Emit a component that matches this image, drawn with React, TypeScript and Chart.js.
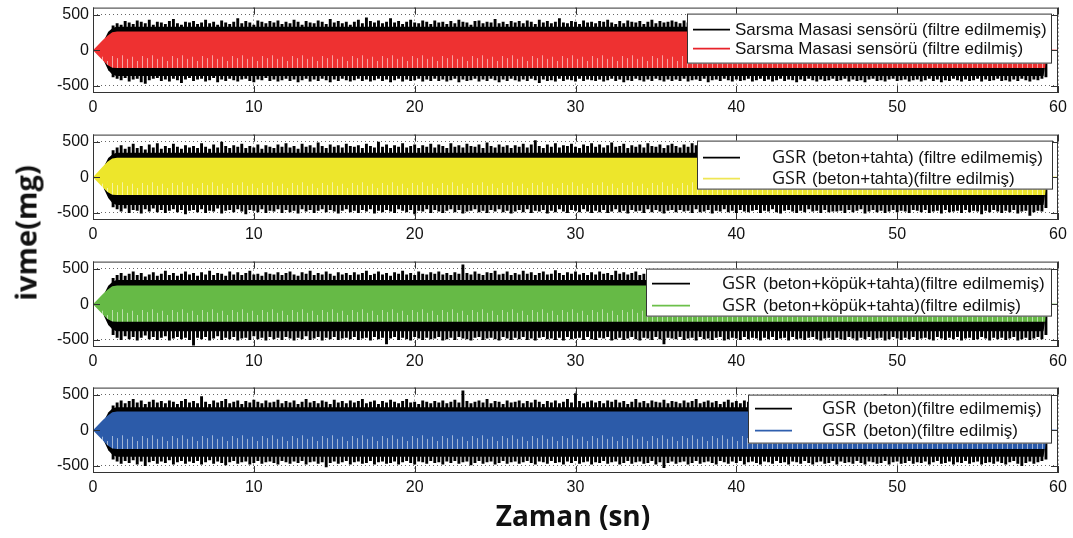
import React, { useEffect, useRef } from "react";
import { Chart, registerables } from "chart.js";

Chart.register(...registerables);

// ---------- axes ----------
const X_TICKS = [0, 10, 20, 30, 40, 50, 60];
const Y_TICKS = [-500, 0, 500];
const Y_MIN = -600;
const Y_MAX = 600;
const X_MIN = 0;
const X_MAX = 60;

// ---------- sampling of the raw (unfiltered) peaks: one peak pair every 0.25 s ----------
const SPIKE_T0 = 1.25;
const SPIKE_DT = 0.25;
const CORE_T = [0.45, 0.7, 0.95, 1.2, 1.45, 59.1, 59.35];
const FILT_T = [0, 0.3, 0.6, 0.9, 1.2, 1.5, 59.2, 59.3, 60];

// ---------- panel 1 : Sarsma Masasi ----------
const P1_RAW_UP = [
  350, 380, 360, 410, 390, 370, 420, 400, 380, 430, 360, 400, 390, 370, 410, 440, 380, 360, 400, 390,
  410, 370, 390, 430, 380, 400, 360, 420, 390, 370, 400, 450, 380, 410, 390, 360, 420, 400, 380, 410,
  390, 420, 370, 400, 380, 430, 400, 360, 410, 390, 380, 420, 400, 370, 440, 390, 410, 380, 400, 360,
  400, 430, 380, 460, 410, 390, 420, 380, 400, 450, 390, 410, 370, 400, 430, 390, 380, 420, 400, 370,
  420, 390, 400, 370, 410, 380, 430, 400, 390, 360, 410, 420, 380, 400, 390, 440, 380, 400, 370, 410,
  390, 410, 380, 420, 400, 370, 430, 390, 410, 380, 400, 450, 390, 380, 410, 400, 370, 420, 390, 400,
  380, 410, 400, 430, 390, 370, 410, 380, 420, 400, 390, 410, 370, 400, 430, 380, 410, 390, 400, 420,
  400, 380, 420, 390, 410, 370, 400, 430, 380, 410, 390, 400, 420, 380, 400, 370, 410, 390, 430, 400,
  380, 410, 400, 420, 390, 380, 440, 400, 390, 410, 370, 400, 420, 390, 380, 410, 400, 430, 390, 380,
  410, 400, 380, 420, 390, 410, 370, 400, 430, 390, 400, 380, 410, 420, 390, 400, 380, 410, 440, 390,
  400, 380, 410, 390, 420, 400, 370, 410, 390, 430, 380, 400, 410, 390, 420, 380, 400, 410, 390, 400,
  420, 390, 400, 380, 410, 400, 430, 390, 400, 380, 410, 380, 350,
];
const P1_RAW_LO = [
  -380, -400, -420, -390, -440, -410, -400, -450, -470, -420, -400, -390, -430, -410, -440, -400, -420, -460, -410, -390,
  -430, -410, -400, -440, -420, -390, -450, -410, -430, -400, -420, -440, -410, -400, -430, -450, -410, -420, -390, -430,
  -410, -440, -420, -400, -430, -410, -450, -420, -400, -440, -410, -430, -400, -420, -450, -410, -430, -400, -420, -440,
  -420, -400, -430, -410, -440, -420, -400, -430, -410, -450, -420, -400, -440, -410, -430, -420, -400, -440, -410, -430,
  -400, -430, -410, -440, -420, -400, -450, -410, -430, -420, -400, -440, -410, -430, -400, -420, -450, -410, -430, -400,
  -420, -440, -410, -430, -400, -420, -460, -410, -430, -420, -440, -400, -430, -410, -420, -440, -400, -430, -410, -420,
  -430, -410, -440, -420, -400, -430, -410, -450, -420, -430, -400, -420, -440, -410, -430, -400, -420, -440, -410, -430,
  -410, -430, -400, -440, -420, -410, -430, -400, -450, -420, -410, -430, -400, -420, -440, -410, -430, -420, -400, -440,
  -420, -400, -430, -410, -440, -420, -400, -430, -410, -420, -450, -410, -430, -400, -420, -440, -410, -430, -420, -400,
  -430, -420, -400, -440, -410, -430, -420, -450, -410, -400, -430, -420, -440, -410, -400, -430, -420, -410, -440, -420,
  -410, -440, -420, -400, -430, -410, -450, -420, -430, -400, -420, -440, -410, -430, -420, -400, -440, -410, -430, -420,
  -400, -430, -420, -440, -410, -430, -400, -420, -440, -410, -420, -400, -380,
];
const P1_CORE_UP = [0, 150, 260, 310, 330, 330, 0];
const P1_CORE_LO = [0, -160, -280, -340, -360, -360, 0];
const P1_FILT_UP = [0, 70, 140, 205, 255, 265, 265, 12, 8];
const P1_FILT_LO = [0, -70, -140, -205, -245, -250, -250, -12, -8];

// ---------- panel 2 : GSR (beton+tahta) ----------
const P2_RAW_UP = [
  380, 420, 450, 400, 430, 470, 410, 440, 390, 460, 420, 480, 400, 440, 410, 470, 430, 400, 450, 420,
  440, 410, 480, 430, 400, 460, 420, 500, 440, 410, 450, 430, 470, 410, 440, 420, 460, 400, 450, 430,
  410, 460, 430, 480, 420, 440, 400, 470, 430, 450, 420, 490, 440, 410, 460, 430, 450, 420, 470, 440,
  430, 450, 410, 470, 440, 420, 500, 430, 460, 410, 450, 430, 480, 420, 440, 460, 410, 450, 430, 470,
  420, 460, 440, 410, 480, 430, 450, 420, 470, 440, 430, 460, 410, 490, 440, 420, 460, 430, 450, 410,
  450, 430, 470, 420, 460, 520, 440, 410, 460, 430, 480, 420, 450, 440, 470, 430, 410, 460, 440, 480,
  430, 460, 420, 450, 490, 430, 440, 470, 410, 450, 430, 460, 420, 480, 440, 430, 460, 410, 450, 470,
  440, 420, 460, 430, 480, 450, 410, 470, 440, 430, 500, 440, 420, 460, 430, 450, 410, 470, 440, 460,
  420, 450, 430, 470, 410, 460, 440, 490, 430, 450, 420, 460, 440, 410, 480, 430, 450, 420, 460, 440,
  460, 430, 450, 410, 470, 440, 500, 430, 460, 420, 450, 440, 480, 430, 410, 460, 440, 470, 420, 450,
  430, 470, 440, 420, 460, 430, 480, 450, 410, 460, 440, 430, 470, 420, 450, 490, 430, 460, 440, 420,
  450, 430, 470, 440, 420, 460, 430, 450, 480, 420, 440, 410, 370,
];
const P2_RAW_LO = [
  -420, -450, -480, -440, -500, -460, -470, -510, -450, -480, -440, -490, -460, -500, -470, -450, -490, -460, -520, -470,
  -460, -490, -450, -500, -470, -480, -440, -510, -470, -460, -490, -450, -480, -520, -460, -470, -490, -450, -500, -470,
  -480, -450, -500, -460, -490, -470, -510, -450, -480, -460, -500, -470, -450, -490, -460, -480, -510, -470, -450, -490,
  -470, -500, -460, -480, -450, -510, -470, -490, -460, -480, -500, -450, -470, -490, -460, -520, -470, -480, -450, -500,
  -460, -480, -500, -470, -450, -490, -460, -510, -480, -470, -450, -490, -470, -500, -460, -480, -450, -490, -470, -510,
  -480, -460, -490, -450, -500, -470, -480, -460, -510, -470, -490, -450, -480, -500, -460, -470, -490, -450, -480, -500,
  -470, -490, -460, -500, -480, -450, -490, -470, -510, -460, -480, -470, -500, -450, -490, -460, -480, -510, -470, -460,
  -490, -460, -480, -470, -500, -450, -490, -480, -460, -510, -470, -480, -450, -490, -470, -500, -460, -480, -490, -470,
  -460, -500, -470, -480, -450, -490, -510, -470, -460, -480, -500, -470, -490, -450, -480, -470, -500, -460, -490, -480,
  -480, -470, -500, -460, -490, -470, -450, -510, -480, -460, -490, -470, -500, -480, -460, -490, -470, -480, -500, -460,
  -470, -490, -460, -500, -480, -470, -510, -460, -490, -480, -470, -500, -460, -490, -470, -480, -520, -470, -490, -460,
  -480, -500, -470, -490, -460, -510, -480, -470, -540, -490, -470, -480, -430,
];
const P2_CORE_UP = [0, 160, 270, 320, 345, 345, 0];
const P2_CORE_LO = [0, -170, -290, -360, -390, -390, 0];
const P2_FILT_UP = [0, 75, 150, 220, 265, 275, 275, 12, 8];
const P2_FILT_LO = [0, -70, -140, -205, -245, -250, -250, -12, -8];

// ---------- panel 3 : GSR (beton+köpük+tahta) ----------
const P3_RAW_UP = [
  370, 410, 440, 400, 430, 460, 410, 440, 390, 420, 450, 400, 430, 470, 410, 440, 400, 430, 460, 420,
  440, 400, 450, 420, 470, 410, 440, 430, 400, 460, 420, 450, 410, 440, 470, 420, 430, 400, 450, 430,
  420, 450, 410, 440, 460, 420, 400, 450, 430, 470, 410, 440, 420, 460, 430, 400, 450, 420, 440, 410,
  450, 420, 440, 470, 410, 430, 460, 420, 440, 400, 450, 430, 470, 420, 440, 410, 460, 430, 420, 450,
  430, 460, 420, 440, 410, 450, 430, 560, 440, 420, 460, 430, 410, 450, 440, 470, 420, 430, 460, 410,
  440, 420, 470, 430, 450, 410, 440, 460, 420, 430, 480, 440, 410, 450, 430, 460, 420, 440, 410, 450,
  420, 460, 430, 440, 410, 470, 430, 450, 420, 440, 460, 410, 430, 450, 420, 470, 440, 430, 410, 460,
  430, 450, 410, 440, 470, 420, 440, 460, 430, 410, 450, 440, 420, 460, 430, 480, 420, 440, 450, 410,
  450, 420, 440, 460, 430, 410, 470, 440, 420, 450, 430, 460, 410, 440, 420, 450, 470, 430, 440, 420,
  440, 460, 420, 450, 430, 410, 460, 440, 470, 420, 450, 430, 440, 410, 460, 430, 420, 450, 440, 470,
  420, 450, 430, 460, 410, 440, 430, 470, 420, 450, 440, 410, 460, 430, 450, 420, 440, 460, 430, 410,
  450, 430, 460, 420, 440, 410, 450, 430, 460, 420, 440, 410, 370,
];
const P3_RAW_LO = [
  -430, -470, -500, -450, -490, -460, -510, -470, -440, -490, -460, -500, -470, -450, -510, -480, -460, -490, -470, -500,
  -580, -470, -490, -460, -510, -480, -450, -500, -470, -490, -460, -510, -480, -470, -500, -450, -490, -470, -510, -460,
  -490, -470, -500, -460, -480, -510, -470, -490, -450, -500, -480, -460, -510, -470, -490, -460, -500, -480, -470, -490,
  -460, -500, -480, -470, -510, -460, -490, -470, -560, -480, -460, -500, -470, -490, -510, -460, -480, -500, -470, -490,
  -480, -460, -510, -490, -470, -500, -460, -480, -490, -510, -470, -460, -500, -480, -470, -490, -510, -460, -480, -500,
  -470, -490, -460, -500, -480, -510, -470, -460, -490, -480, -500, -470, -510, -460, -490, -480, -470, -500, -460, -490,
  -500, -470, -480, -460, -510, -490, -470, -500, -480, -460, -490, -510, -470, -480, -500, -460, -490, -560, -470, -480,
  -490, -460, -500, -480, -470, -510, -460, -490, -480, -500, -470, -460, -510, -490, -470, -480, -500, -460, -490, -470,
  -480, -510, -470, -490, -460, -500, -480, -470, -510, -460, -490, -480, -500, -470, -460, -490, -510, -480, -470, -500,
  -470, -490, -500, -460, -480, -510, -470, -490, -460, -500, -480, -470, -510, -490, -460, -480, -500, -470, -490, -460,
  -500, -480, -470, -490, -510, -460, -480, -500, -470, -490, -460, -510, -480, -470, -500, -490, -460, -480, -510, -470,
  -490, -470, -500, -480, -460, -510, -490, -470, -500, -480, -460, -490, -430,
];
const P3_CORE_UP = [0, 150, 260, 315, 340, 340, 0];
const P3_CORE_LO = [0, -170, -290, -350, -380, -380, 0];
const P3_FILT_UP = [0, 70, 140, 205, 255, 263, 263, 12, 8];
const P3_FILT_LO = [0, -70, -140, -205, -240, -245, -245, -12, -8];

// ---------- panel 4 : GSR (beton) ----------
const P4_RAW_UP = [
  350, 390, 420, 380, 410, 440, 390, 420, 370, 400, 430, 390, 410, 380, 420, 400, 370, 410, 440, 390,
  410, 380, 480, 400, 370, 420, 390, 410, 440, 380, 400, 420, 370, 410, 390, 430, 400, 380, 420, 390,
  400, 430, 380, 410, 390, 420, 370, 400, 440, 390, 410, 380, 420, 400, 370, 430, 390, 410, 380, 420,
  390, 410, 440, 380, 400, 420, 370, 410, 390, 430, 400, 380, 410, 440, 390, 400, 370, 420, 400, 380,
  410, 390, 420, 380, 400, 430, 390, 560, 410, 380, 400, 420, 390, 440, 380, 410, 400, 370, 420, 390,
  400, 420, 380, 410, 390, 430, 400, 370, 410, 390, 420, 380, 400, 440, 390, 520, 410, 380, 400, 420,
  390, 410, 380, 420, 400, 430, 390, 410, 370, 400, 440, 390, 410, 380, 420, 400, 390, 430, 380, 410,
  400, 380, 420, 390, 410, 440, 380, 400, 420, 390, 410, 370, 400, 430, 390, 410, 380, 420, 400, 390,
  420, 390, 400, 380, 430, 410, 390, 400, 420, 380, 410, 440, 390, 400, 370, 420, 400, 390, 410, 430,
  390, 410, 380, 420, 400, 390, 430, 380, 410, 400, 420, 390, 510, 400, 380, 410, 390, 430, 400, 380,
  410, 400, 390, 420, 380, 410, 430, 390, 400, 420, 380, 410, 400, 390, 430, 380, 410, 400, 420, 390,
  400, 420, 390, 410, 380, 430, 400, 390, 410, 380, 400, 390, 350,
];
const P4_RAW_LO = [
  -410, -440, -470, -430, -460, -420, -480, -440, -500, -450, -430, -470, -440, -460, -420, -480, -450, -430, -470, -440,
  -460, -430, -480, -450, -420, -470, -440, -460, -490, -450, -430, -470, -450, -440, -480, -460, -430, -470, -450, -440,
  -460, -480, -430, -450, -470, -440, -460, -430, -480, -450, -440, -470, -450, -520, -460, -440, -470, -450, -430, -480,
  -450, -440, -470, -460, -430, -480, -450, -440, -470, -460, -440, -480, -450, -430, -460, -480, -440, -450, -470, -430,
  -460, -450, -480, -440, -460, -430, -470, -450, -440, -490, -460, -430, -470, -450, -440, -480, -460, -430, -470, -450,
  -440, -470, -450, -430, -460, -480, -440, -450, -470, -430, -460, -450, -480, -440, -460, -430, -470, -450, -440, -480,
  -450, -460, -430, -470, -450, -440, -480, -460, -430, -470, -450, -440, -470, -460, -430, -480, -450, -530, -460, -440,
  -470, -450, -440, -480, -460, -430, -470, -450, -440, -460, -480, -430, -450, -470, -440, -460, -430, -480, -450, -440,
  -460, -480, -440, -450, -470, -430, -460, -450, -480, -440, -450, -470, -430, -460, -480, -450, -440, -470, -460, -430,
  -480, -440, -460, -450, -470, -430, -460, -480, -440, -450, -470, -460, -430, -480, -450, -440, -470, -460, -430, -470,
  -450, -460, -440, -480, -450, -430, -470, -460, -440, -480, -450, -460, -430, -470, -450, -440, -480, -460, -450, -470,
  -440, -460, -480, -450, -430, -470, -500, -460, -440, -470, -450, -430, -410,
];
const P4_CORE_UP = [0, 140, 250, 305, 325, 325, 0];
const P4_CORE_LO = [0, -160, -280, -345, -370, -370, 0];
const P4_FILT_UP = [0, 70, 140, 205, 255, 263, 263, 12, 8];
const P4_FILT_LO = [0, -70, -140, -210, -255, -262, -262, -12, -8];

// ---------- legend texts ----------
const P1_LABELS = ["Sarsma Masasi sensörü (filtre edilmemiş)", "Sarsma Masasi sensörü (filtre edilmiş)"];
const P2_LABELS = ["(beton+tahta) (filtre edilmemiş)", "(beton+tahta)(filtre edilmiş)"];
const P3_LABELS = ["(beton+köpük+tahta)(filtre edilmemiş)", "(beton+köpük+tahta)(filtre edilmiş)"];
const P4_LABELS = ["(beton)(filtre edilmemiş)", "(beton)(filtre edilmiş)"];
const GSR = "GSR";
const X_TITLE = "Zaman (sn)";
const Y_TITLE = "ivme(mg)";

// ---------- styles ----------
const RED = "#EE3131";
const YELLOW = "#EDE62B";
const GREEN = "#66BA46";
const BLUE = "#2C5BA9";
const STREAK_LEVELS = [-70, -120, -90, -150, -80, -110];

const PAD_TOP = 8;
const PLOT_H = 91;
const X_AXIS_H = 26;
const CANVAS_H = PAD_TOP + PLOT_H + X_AXIS_H;
const W = 1073;
const TICK_FONT = { family: "'Liberation Sans', Arial, sans-serif", size: 16 };

type Row = { y: number; color: string; prefix: string; text: string };
type LegendCfg = { x1: number; x2: number; y1: number; y2: number; lx1: number; lx2: number; px: number; tx: number; rows: Row[] };

const PANELS = [
  {
    top: 2, color: RED,
    rawUp: P1_RAW_UP, rawLo: P1_RAW_LO, coreUp: P1_CORE_UP, coreLo: P1_CORE_LO, filtUp: P1_FILT_UP, filtLo: P1_FILT_LO,
    legend: {
      x1: 687, x2: 1052, y1: 6, y2: 56, lx1: 693, lx2: 730, px: 0, tx: 735,
      rows: [
        { y: 22, color: "#000", prefix: "", text: P1_LABELS[0] },
        { y: 41, color: "#E8232A", prefix: "", text: P1_LABELS[1] },
      ],
    } as LegendCfg,
  },
  {
    top: 129, color: YELLOW,
    rawUp: P2_RAW_UP, rawLo: P2_RAW_LO, coreUp: P2_CORE_UP, coreLo: P2_CORE_LO, filtUp: P2_FILT_UP, filtLo: P2_FILT_LO,
    legend: {
      x1: 697, x2: 1053, y1: 6, y2: 55, lx1: 703, lx2: 740, px: 772, tx: 812,
      rows: [
        { y: 23, color: "#000", prefix: GSR, text: P2_LABELS[0] },
        { y: 44, color: "#EFE655", prefix: GSR, text: P2_LABELS[1] },
      ],
    } as LegendCfg,
  },
  {
    top: 256, color: GREEN,
    rawUp: P3_RAW_UP, rawLo: P3_RAW_LO, coreUp: P3_CORE_UP, coreLo: P3_CORE_LO, filtUp: P3_FILT_UP, filtLo: P3_FILT_LO,
    legend: {
      x1: 646, x2: 1052, y1: 7, y2: 55, lx1: 652, lx2: 690, px: 722, tx: 763,
      rows: [
        { y: 22, color: "#000", prefix: GSR, text: P3_LABELS[0] },
        { y: 44, color: "#6CC04A", prefix: GSR, text: P3_LABELS[1] },
      ],
    } as LegendCfg,
  },
  {
    top: 382, color: BLUE,
    rawUp: P4_RAW_UP, rawLo: P4_RAW_LO, coreUp: P4_CORE_UP, coreLo: P4_CORE_LO, filtUp: P4_FILT_UP, filtLo: P4_FILT_LO,
    legend: {
      x1: 748, x2: 1052, y1: 7, y2: 56, lx1: 755, lx2: 792, px: 822, tx: 863,
      rows: [
        { y: 21, color: "#000", prefix: GSR, text: P4_LABELS[0] },
        { y: 43, color: "#2F5FAE", prefix: GSR, text: P4_LABELS[1] },
      ],
    } as LegendCfg,
  },
];

// ---------- plugins ----------
const framePlugin = {
  id: "matlabFrame",
  afterDatasetsDraw(chart: any) {
    const { ctx, chartArea, scales } = chart;
    const { left, right, top, bottom } = chartArea;
    ctx.save();
    ctx.strokeStyle = "#333";
    ctx.lineWidth = 1;
    ctx.setLineDash([]);
    ctx.strokeRect(left + 0.5, top + 0.5, right - left - 1, bottom - top - 1);
    const tl = 7;
    ctx.beginPath();
    X_TICKS.forEach((v) => {
      const x = Math.round(scales.x.getPixelForValue(v)) + 0.5;
      ctx.moveTo(x, bottom);
      ctx.lineTo(x, bottom - tl);
      ctx.moveTo(x, top);
      ctx.lineTo(x, top + tl);
    });
    Y_TICKS.forEach((v) => {
      const y = Math.round(scales.y.getPixelForValue(v)) + 0.5;
      ctx.moveTo(left, y);
      ctx.lineTo(left + tl, y);
      ctx.moveTo(right, y);
      ctx.lineTo(right - tl, y);
    });
    ctx.stroke();
    ctx.restore();
  },
};

const legendPlugin = {
  id: "panelLegend",
  afterDraw(chart: any, _args: any, opts: any) {
    const cfg = opts as LegendCfg;
    if (!cfg || !cfg.rows) return;
    const { ctx, chartArea } = chart;
    const t = chartArea.top;
    ctx.save();
    ctx.fillStyle = "#fff";
    ctx.fillRect(cfg.x1, t + cfg.y1, cfg.x2 - cfg.x1, cfg.y2 - cfg.y1);
    ctx.strokeStyle = "#333";
    ctx.lineWidth = 1;
    ctx.strokeRect(cfg.x1 + 0.5, t + cfg.y1 + 0.5, cfg.x2 - cfg.x1 - 1, cfg.y2 - cfg.y1 - 1);
    cfg.rows.forEach((r) => {
      const y = t + r.y;
      ctx.strokeStyle = r.color;
      ctx.lineWidth = 1.6;
      ctx.beginPath();
      ctx.moveTo(cfg.lx1, y);
      ctx.lineTo(cfg.lx2, y);
      ctx.stroke();
      ctx.fillStyle = "#111";
      ctx.textBaseline = "middle";
      ctx.textAlign = "left";
      if (r.prefix) {
        ctx.font = "18px 'Open Sans', sans-serif";
        ctx.fillText(r.prefix, cfg.px, y);
      }
      ctx.font = "17px 'Liberation Sans', Arial, sans-serif";
      ctx.fillText(r.text, cfg.tx, y + 1);
    });
    ctx.restore();
  },
};

function streakFill(chart: any, color: string) {
  const ys = chart.scales && chart.scales.y;
  if (!ys || !chart.chartArea || !isFinite(ys.top)) return color;
  const key = "_streak_" + color;
  if (chart[key]) return chart[key];
  const tile = document.createElement("canvas");
  tile.width = STREAK_LEVELS.length * 5;
  tile.height = chart.height;
  const c = tile.getContext("2d")!;
  c.fillStyle = color;
  c.fillRect(0, 0, tile.width, tile.height);
  c.fillStyle = "rgba(255,255,255,0.55)";
  const yEnd = ys.getPixelForValue(-300);
  STREAK_LEVELS.forEach((v, i) => {
    const y1 = ys.getPixelForValue(v);
    c.fillRect(i * 5 + 2, y1, 1, yEnd - y1);
  });
  const pat = chart.ctx.createPattern(tile, "repeat");
  chart[key] = pat;
  return pat;
}

function Panel({ p }: { p: (typeof PANELS)[number] }) {
  const ref = useRef<HTMLCanvasElement>(null);
  useEffect(() => {
    const cv = ref.current!;
    const spikes = p.rawUp.map((u, i) => ({ x: SPIKE_T0 + i * SPIKE_DT, y: [p.rawLo[i], u] }));
    const chart = new Chart(cv, {
      type: "bar",
      data: {
        datasets: [
          {
            type: "line",
            data: FILT_T.map((t, i) => ({ x: t, y: p.filtUp[i] })),
            borderColor: "rgba(0,0,0,0)",
            borderWidth: 0,
            pointRadius: 0,
            tension: 0,
            fill: "+1",
            backgroundColor: (c: any) => streakFill(c.chart, p.color),
          } as any,
          {
            type: "line",
            data: FILT_T.map((t, i) => ({ x: t, y: p.filtLo[i] })),
            borderColor: "rgba(0,0,0,0)",
            borderWidth: 0,
            pointRadius: 0,
            tension: 0,
            fill: false,
          } as any,
          {
            type: "bar",
            data: spikes,
            backgroundColor: "#000",
            borderWidth: 0,
            barPercentage: 0.72,
            categoryPercentage: 1,
            grouped: false,
          } as any,
          {
            type: "line",
            data: CORE_T.map((t, i) => ({ x: t, y: p.coreUp[i] })),
            borderColor: "rgba(0,0,0,0)",
            borderWidth: 0,
            pointRadius: 0,
            tension: 0,
            fill: "+1",
            backgroundColor: "#000",
          } as any,
          {
            type: "line",
            data: CORE_T.map((t, i) => ({ x: t, y: p.coreLo[i] })),
            borderColor: "rgba(0,0,0,0)",
            borderWidth: 0,
            pointRadius: 0,
            tension: 0,
            fill: false,
          } as any,
        ],
      },
      options: {
        responsive: false,
        animation: false,
        devicePixelRatio: 1,
        layout: { padding: { top: PAD_TOP, right: 15, left: 0, bottom: 0 } },
        plugins: {
          legend: { display: false },
          tooltip: { enabled: false },
          panelLegend: p.legend,
        } as any,
        scales: {
          x: {
            type: "linear",
            min: X_MIN,
            max: X_MAX,
            offset: false,
            grid: { offset: false, color: "#666", lineWidth: 1, drawTicks: false },
            border: { display: false, dash: [1, 3] },
            afterBuildTicks: (s: any) => {
              s.ticks = X_TICKS.map((v) => ({ value: v }));
            },
            ticks: { font: TICK_FONT, color: "#111", padding: 5, maxRotation: 0, autoSkip: false, callback: (v: any) => String(v) },
            afterFit: (s: any) => {
              s.height = X_AXIS_H;
            },
          },
          y: {
            type: "linear",
            min: Y_MIN,
            max: Y_MAX,
            grid: { color: "#666", lineWidth: 1, drawTicks: false },
            border: { display: false, dash: [1, 3] },
            afterBuildTicks: (s: any) => {
              s.ticks = Y_TICKS.map((v) => ({ value: v }));
            },
            ticks: { font: TICK_FONT, color: "#111", padding: 4, autoSkip: false, callback: (v: any) => String(v) },
            afterFit: (s: any) => {
              s.width = 93;
            },
          },
        },
      } as any,
      plugins: [framePlugin, legendPlugin],
    });
    return () => chart.destroy();
  }, []);
  return (
    <canvas
      ref={ref}
      width={W}
      height={CANVAS_H}
      style={{ position: "absolute", left: 0, top: p.top - PAD_TOP, width: W, height: CANVAS_H, display: "block" }}
    />
  );
}

export default function App() {
  return (
    <div style={{ position: "absolute", left: 0, top: 0, width: W, height: 538, background: "#fff", overflow: "hidden" }}>
      {PANELS.map((p, i) => (
        <Panel key={i} p={p} />
      ))}
      <div
        style={{
          position: "absolute",
          left: 25,
          top: 233,
          transform: "translate(-50%, -50%) rotate(-90deg)",
          font: "700 29px 'Open Sans', sans-serif",
          color: "#111",
          whiteSpace: "nowrap",
        }}
      >
        {Y_TITLE}
      </div>
      <div
        style={{
          position: "absolute",
          left: 573,
          top: 515,
          transform: "translate(-50%, -50%)",
          font: "700 28px 'Open Sans', sans-serif",
          color: "#111",
          whiteSpace: "nowrap",
        }}
      >
        {X_TITLE}
      </div>
    </div>
  );
}
